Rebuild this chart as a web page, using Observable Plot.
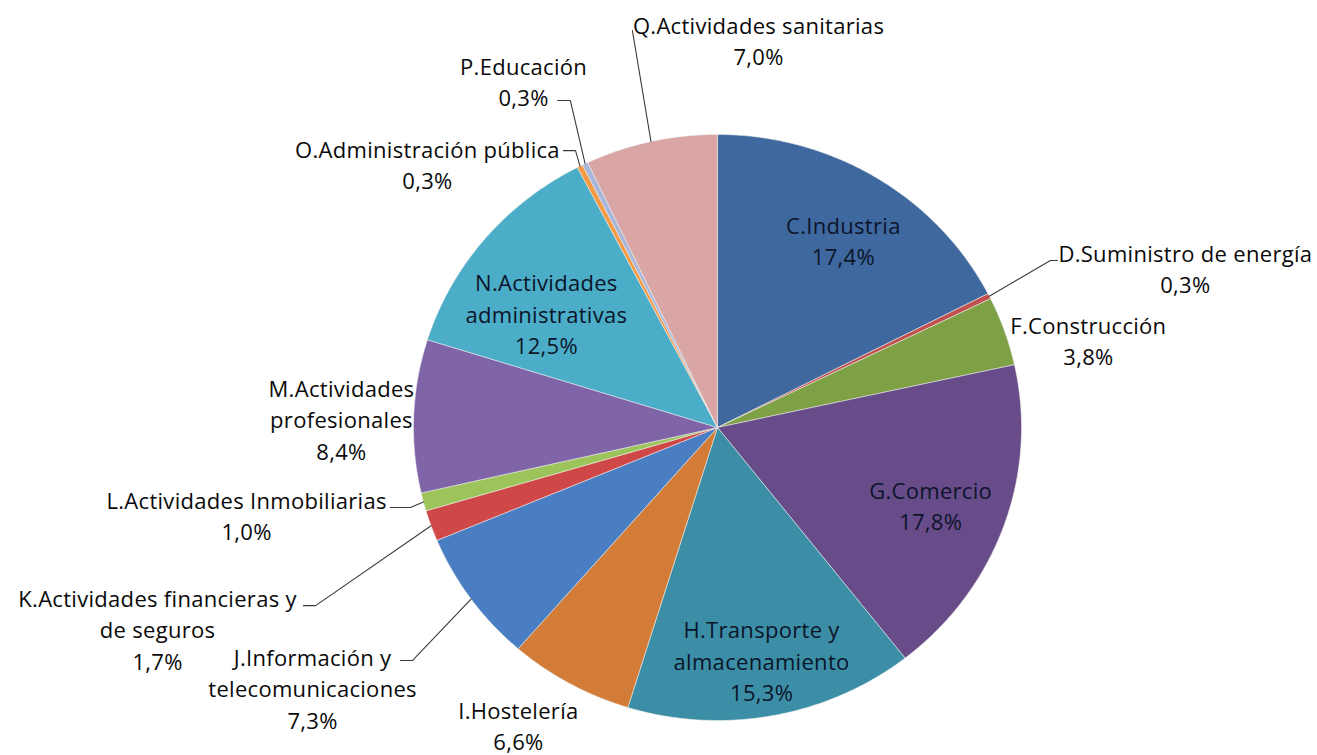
<!DOCTYPE html>
<html>
<head>
<meta charset="utf-8">
<script src="https://cdn.jsdelivr.net/npm/d3@7"></script>
<script src="https://cdn.jsdelivr.net/npm/@observablehq/plot@0.6"></script>
<style>
  html, body { margin: 0; padding: 0; background: #ffffff; }
  #chart { width: 1317px; height: 755px; overflow: hidden; }
</style>
</head>
<body>
<div id="chart"></div>
<script>
// ---- Data ----
const categories = [
  "C.Industria", "D.Suministro de energía", "F.Construcción", "G.Comercio",
  "H.Transporte y almacenamiento", "I.Hostelería", "J.Información y telecomunicaciones",
  "K.Actividades financieras y de seguros", "L.Actividades Inmobiliarias",
  "M.Actividades profesionales", "N.Actividades administrativas",
  "O.Administración pública", "P.Educación", "Q.Actividades sanitarias"
];
const values = [17.4, 0.3, 3.8, 17.8, 15.3, 6.6, 7.3, 1.7, 1.0, 8.4, 12.5, 0.3, 0.3, 7.0];
const valueLabels = ["17,4%", "0,3%", "3,8%", "17,8%", "15,3%", "6,6%", "7,3%",
                     "1,7%", "1,0%", "8,4%", "12,5%", "0,3%", "0,3%", "7,0%"];
// label text split into lines as in the picture
const labelLines = [
  ["C.Industria"], ["D.Suministro de energía"], ["F.Construcción"], ["G.Comercio"],
  ["H.Transporte y", "almacenamiento"], ["I.Hostelería"], ["J.Información y", "telecomunicaciones"],
  ["K.Actividades financieras y", "de seguros"], ["L.Actividades Inmobiliarias"],
  ["M.Actividades", "profesionales"], ["N.Actividades", "administrativas"],
  ["O.Administración pública"], ["P.Educación"], ["Q.Actividades sanitarias"]
];
const colors = ["#3E689E", "#C0504D", "#7EA145", "#684B89", "#3B8EA5", "#D27C37", "#4A7EC2",
                "#CF4747", "#9CC45B", "#8064A8", "#4BADC7", "#F59A45", "#A8B6DA", "#D9A5A5"];

// ---- Layout (label placement in unit-circle coordinates, y up) ----
const labelPos = [
  [0.414, 0.642], [1.539, 0.546], [1.220, 0.300], [0.701, -0.263],
  [0.145, -0.792], [-0.655, -1.014], [-1.332, -0.887], [-1.842, -0.686],
  [-1.549, -0.297], [-1.237, 0.031], [-0.563, 0.392], [-0.954, 0.901],
  [-0.638, 1.184], [0.135, 1.324]
];
const inside = [true, false, false, true, true, false, false, false, false, false, true, false, false, false];
// leader lines: [category index, elbow, end]
const leaders = [
  [1, [1.095, 0.570], [1.118, 0.570]],
  [6, [-1.003, -0.795], [-1.043, -0.795]],
  [7, [-1.322, -0.608], [-1.362, -0.608]],
  [8, [-1.010, -0.273], [-1.076, -0.273]],
  [11, [-0.467, 0.945], [-0.507, 0.945]],
  [12, [-0.484, 1.116], [-0.526, 1.116]],
  [13, null, [-0.280, 1.355]]
];

// ---- Build geometry ----
const total = d3.sum(values);
const slices = [];
const mids = [];
let acc = 0;
values.forEach((v, i) => {
  const a0 = acc / total * 2 * Math.PI;
  acc += v;
  const a1 = acc / total * 2 * Math.PI;
  mids.push((a0 + a1) / 2);
  const n = Math.max(2, Math.ceil((a1 - a0) / (Math.PI / 360)));
  slices.push({cat: categories[i], x: 0, y: 0});
  for (let k = 0; k <= n; k++) {
    const t = a0 + (a1 - a0) * k / n;
    slices.push({cat: categories[i], x: Math.sin(t), y: Math.cos(t)});
  }
  slices.push({cat: categories[i], x: 0, y: 0});
});

const labels = categories.map((c, i) => ({
  cat: c,
  x: labelPos[i][0],
  y: labelPos[i][1],
  text: labelLines[i].concat([valueLabels[i]]).join("\n"),
  inside: inside[i]
}));

const leaderPts = [];
leaders.forEach(([i, elbow, end]) => {
  const m = mids[i];
  leaderPts.push({id: i, x: Math.sin(m), y: Math.cos(m)});
  if (elbow) leaderPts.push({id: i, x: elbow[0], y: elbow[1]});
  leaderPts.push({id: i, x: end[0], y: end[1]});
});

const font = "'Open Sans', Lato, sans-serif";

const chart = Plot.plot({
  width: 1317,
  height: 755,
  margin: 0,
  style: {background: "#ffffff", fontFamily: font, letterSpacing: "0.3px"},
  x: {domain: [-1, 1], range: [413, 1021], axis: null},
  y: {domain: [-1, 1], range: [720, 134], axis: null},
  color: {domain: categories, range: colors},
  marks: [
    Plot.line(slices, {x: "x", y: "y", z: "cat", fill: "cat", stroke: "#eeeeee", strokeWidth: 0.6, strokeOpacity: 0.9}),
    Plot.line(leaderPts, {x: "x", y: "y", z: "id", stroke: "#3a3a3a", strokeWidth: 1.1}),
    Plot.text(labels, {
      x: "x", y: "y", text: "text",
      fontSize: 22, lineHeight: 1.42, textAnchor: "middle",
      fill: d => d.inside ? "#0c152a" : "#0a0a0a",
      fontFamily: font
    })
  ]
});
document.getElementById("chart").appendChild(chart);
</script>
</body>
</html>
